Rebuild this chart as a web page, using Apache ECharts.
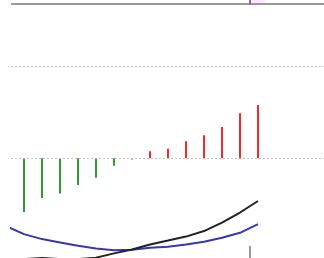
<!DOCTYPE html>
<html>
<head>
<meta charset="utf-8">
<script src="https://cdn.jsdelivr.net/npm/echarts@6/dist/echarts.min.js"></script>
<style>html,body{margin:0;padding:0;background:#fff}#c{width:324px;height:258px}</style>
</head>
<body>
<div id="c"></div>
<script>
// x positions (bar index)
const idx = [0,1,2,3,4,5,6,7,8,9,10,11,12,13,14];
// MACD histogram
const macd = [null,-0.58,-0.43,-0.38,-0.29,-0.21,-0.08,-0.013,0.076,0.103,0.185,0.252,0.339,0.489,0.579];
// DIF (black)
const dif = [-1.103,-1.092,-1.079,-1.092,-1.092,-1.076,-1.030,-0.987,-0.933,-0.891,-0.848,-0.788,-0.696,-0.587,-0.462];
// DEA (blue)
const dea = [-0.734,-0.821,-0.875,-0.911,-0.948,-0.976,-0.995,-0.991,-0.970,-0.957,-0.933,-0.904,-0.861,-0.807,-0.712];
// reference grid levels
const gridLevels = [0, 1];

const chart = echarts.init(document.getElementById('c'), null, {renderer:'canvas'});
const pair = (arr) => idx.map((x,i) => [x, arr[i]]);
chart.setOption({
  animation:false,
  grid:{left:11, top:20, right:0, bottom:0},
  xAxis:{type:'value', min:5/18, max:318/18, show:false},
  yAxis:{type:'value', min:-1.08, max:1.5, show:false},
  graphic:[
    {type:'line', shape:{x1:11,y1:4,x2:324,y2:4}, style:{stroke:'#9a9a9a', lineWidth:2}},
    {type:'rect', shape:{x:251,y:0,width:14,height:3}, style:{fill:'#fce6fc'}},
    {type:'line', shape:{x1:250,y1:0,x2:250,y2:5}, style:{stroke:'#777', lineWidth:2}},
    {type:'line', shape:{x1:250,y1:246,x2:250,y2:258}, style:{stroke:'#999', lineWidth:2}}
  ],
  series:[
    {
      type:'bar', barWidth:2,
      data: idx.map((x,i)=>macd[i]==null?null:[x,macd[i]]).filter(d=>d),
      itemStyle:{color:(p)=>p.value[1]>=0?'#f22a2a':'#2f9a2f'},
      markLine:{silent:true, symbol:'none', label:{show:false},
        lineStyle:{color:'#c4c4c4', type:[2,2], width:1},
        data: gridLevels.map(v=>({yAxis:v}))}
    },
    {type:'line', data:pair(dea), symbol:'none', lineStyle:{color:'#3636b8', width:2}, z:3},
    {type:'line', data:pair(dif), symbol:'none', lineStyle:{color:'#222', width:2}, z:4}
  ]
});
</script>
</body>
</html>
